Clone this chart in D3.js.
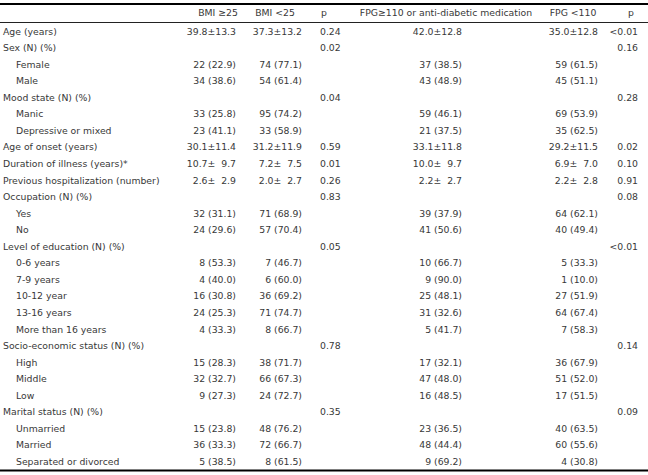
<!DOCTYPE html>
<html>
<head>
<meta charset="utf-8">
<script src="https://d3js.org/d3.v7.min.js"></script>
<style>
  body { margin: 0; background: #fff; }
  text { font-family: "DejaVu Sans", sans-serif; font-size: 9.3px; fill: #383838; }
</style>
</head>
<body>
<svg id="chart" width="648" height="475"></svg>
<script>
// column headers
const headers = ["BMI \u226525", "BMI <25", "p", "FPG\u2265110 or anti-diabetic medication", "FPG <110", "p"];

// row labels, sub = indented sub-category
const labels = [
  "Age (years)", "Sex (N) (%)", "Female", "Male", "Mood state (N) (%)", "Manic", "Depressive or mixed",
  "Age of onset (years)", "Duration of illness (years)*", "Previous hospitalization (number)",
  "Occupation (N) (%)", "Yes", "No", "Level of education (N) (%)", "0-6 years", "7-9 years",
  "10-12 year", "13-16 years", "More than 16 years", "Socio-economic status (N) (%)", "High",
  "Middle", "Low", "Marital status (N) (%)", "Unmarried", "Married", "Separated or divorced"
];
const sub = [0,0,1,1,0,1,1, 0,0,0, 0,1,1,0,1,1, 1,1,1,0,1, 1,1,0,1,1,1];

const bmiHigh = ["39.8\u00b113.3", "", "22 (22.9)", "34 (38.6)", "", "33 (25.8)", "23 (41.1)",
  "30.1\u00b111.4", "10.7\u00b1  9.7", "2.6\u00b1  2.9", "", "32 (31.1)", "24 (29.6)", "",
  "8 (53.3)", "4 (40.0)", "16 (30.8)", "24 (25.3)", "4 (33.3)", "", "15 (28.3)", "32 (32.7)",
  "9 (27.3)", "", "15 (23.8)", "36 (33.3)", "5 (38.5)"];
const bmiLow = ["37.3\u00b113.2", "", "74 (77.1)", "54 (61.4)", "", "95 (74.2)", "33 (58.9)",
  "31.2\u00b111.9", "7.2\u00b1  7.5", "2.0\u00b1  2.7", "", "71 (68.9)", "57 (70.4)", "",
  "7 (46.7)", "6 (60.0)", "36 (69.2)", "71 (74.7)", "8 (66.7)", "", "38 (71.7)", "66 (67.3)",
  "24 (72.7)", "", "48 (76.2)", "72 (66.7)", "8 (61.5)"];
const pBmi = ["0.24", "0.02", "", "", "0.04", "", "", "0.59", "0.01", "0.26", "0.83", "", "", "0.05",
  "", "", "", "", "", "0.78", "", "", "", "0.35", "", "", ""];
const fpgHigh = ["42.0\u00b112.8", "", "37 (38.5)", "43 (48.9)", "", "59 (46.1)", "21 (37.5)",
  "33.1\u00b111.8", "10.0\u00b1  9.7", "2.2\u00b1  2.7", "", "39 (37.9)", "41 (50.6)", "",
  "10 (66.7)", "9 (90.0)", "25 (48.1)", "31 (32.6)", "5 (41.7)", "", "17 (32.1)", "47 (48.0)",
  "16 (48.5)", "", "23 (36.5)", "48 (44.4)", "9 (69.2)"];
const fpgLow = ["35.0\u00b112.8", "", "59 (61.5)", "45 (51.1)", "", "69 (53.9)", "35 (62.5)",
  "29.2\u00b111.5", "6.9\u00b1  7.0", "2.2\u00b1  2.8", "", "64 (62.1)", "40 (49.4)", "",
  "5 (33.3)", "1 (10.0)", "27 (51.9)", "64 (67.4)", "7 (58.3)", "", "36 (67.9)", "51 (52.0)",
  "17 (51.5)", "", "40 (63.5)", "60 (55.6)", "4 (30.8)"];
const pFpg = ["<0.01", "0.16", "", "", "0.28", "", "", "0.02", "0.10", "0.91", "0.08", "", "", "<0.01",
  "", "", "", "", "", "0.14", "", "", "", "0.09", "", "", ""];

const svg = d3.select("#chart");
const W = 648;

const y = d3.scaleBand()
  .domain(d3.range(labels.length))
  .range([23, 470]);

// column positions: x, anchor
const cols = [
  {vals: bmiHigh, x: 236, anchor: "end", hx: 218},
  {vals: bmiLow, x: 302, anchor: "end", hx: 275},
  {vals: pBmi, x: 320, anchor: "start", hx: 324},
  {vals: fpgHigh, x: 462, anchor: "end", hx: 446},
  {vals: fpgLow, x: 598, anchor: "end", hx: 573},
  {vals: pFpg, x: 638, anchor: "end", hx: 631}
];

// rules
svg.append("line").attr("x1", 0).attr("x2", W).attr("y1", 4).attr("y2", 4)
  .attr("stroke", "#000").attr("stroke-width", 2);
svg.append("line").attr("x1", 0).attr("x2", W).attr("y1", 22.5).attr("y2", 22.5)
  .attr("stroke", "#222").attr("stroke-width", 1);
svg.append("line").attr("x1", 0).attr("x2", W).attr("y1", 470.5).attr("y2", 470.5)
  .attr("stroke", "#000").attr("stroke-width", 2);

// header
svg.selectAll("text.head")
  .data(headers)
  .enter().append("text")
  .attr("class", "head")
  .attr("x", (d, i) => cols[i].hx)
  .attr("y", 13)
  .attr("dy", "0.35em")
  .attr("text-anchor", "middle")
  .text(d => d);

// row labels
svg.selectAll("text.label")
  .data(labels)
  .enter().append("text")
  .attr("class", "label")
  .attr("x", (d, i) => sub[i] ? 16 : 3)
  .attr("y", (d, i) => y(i) + y.bandwidth() / 2)
  .attr("dy", "0.35em")
  .text(d => d);

// cells
cols.forEach((c, ci) => {
  svg.selectAll("text.c" + ci)
    .data(c.vals)
    .enter().append("text")
    .attr("class", "c" + ci)
    .attr("x", c.x)
    .attr("y", (d, i) => y(i) + y.bandwidth() / 2)
    .attr("dy", "0.35em")
    .attr("text-anchor", c.anchor)
    .style("white-space", "pre")
    .text(d => d);
});
</script>
</body>
</html>
